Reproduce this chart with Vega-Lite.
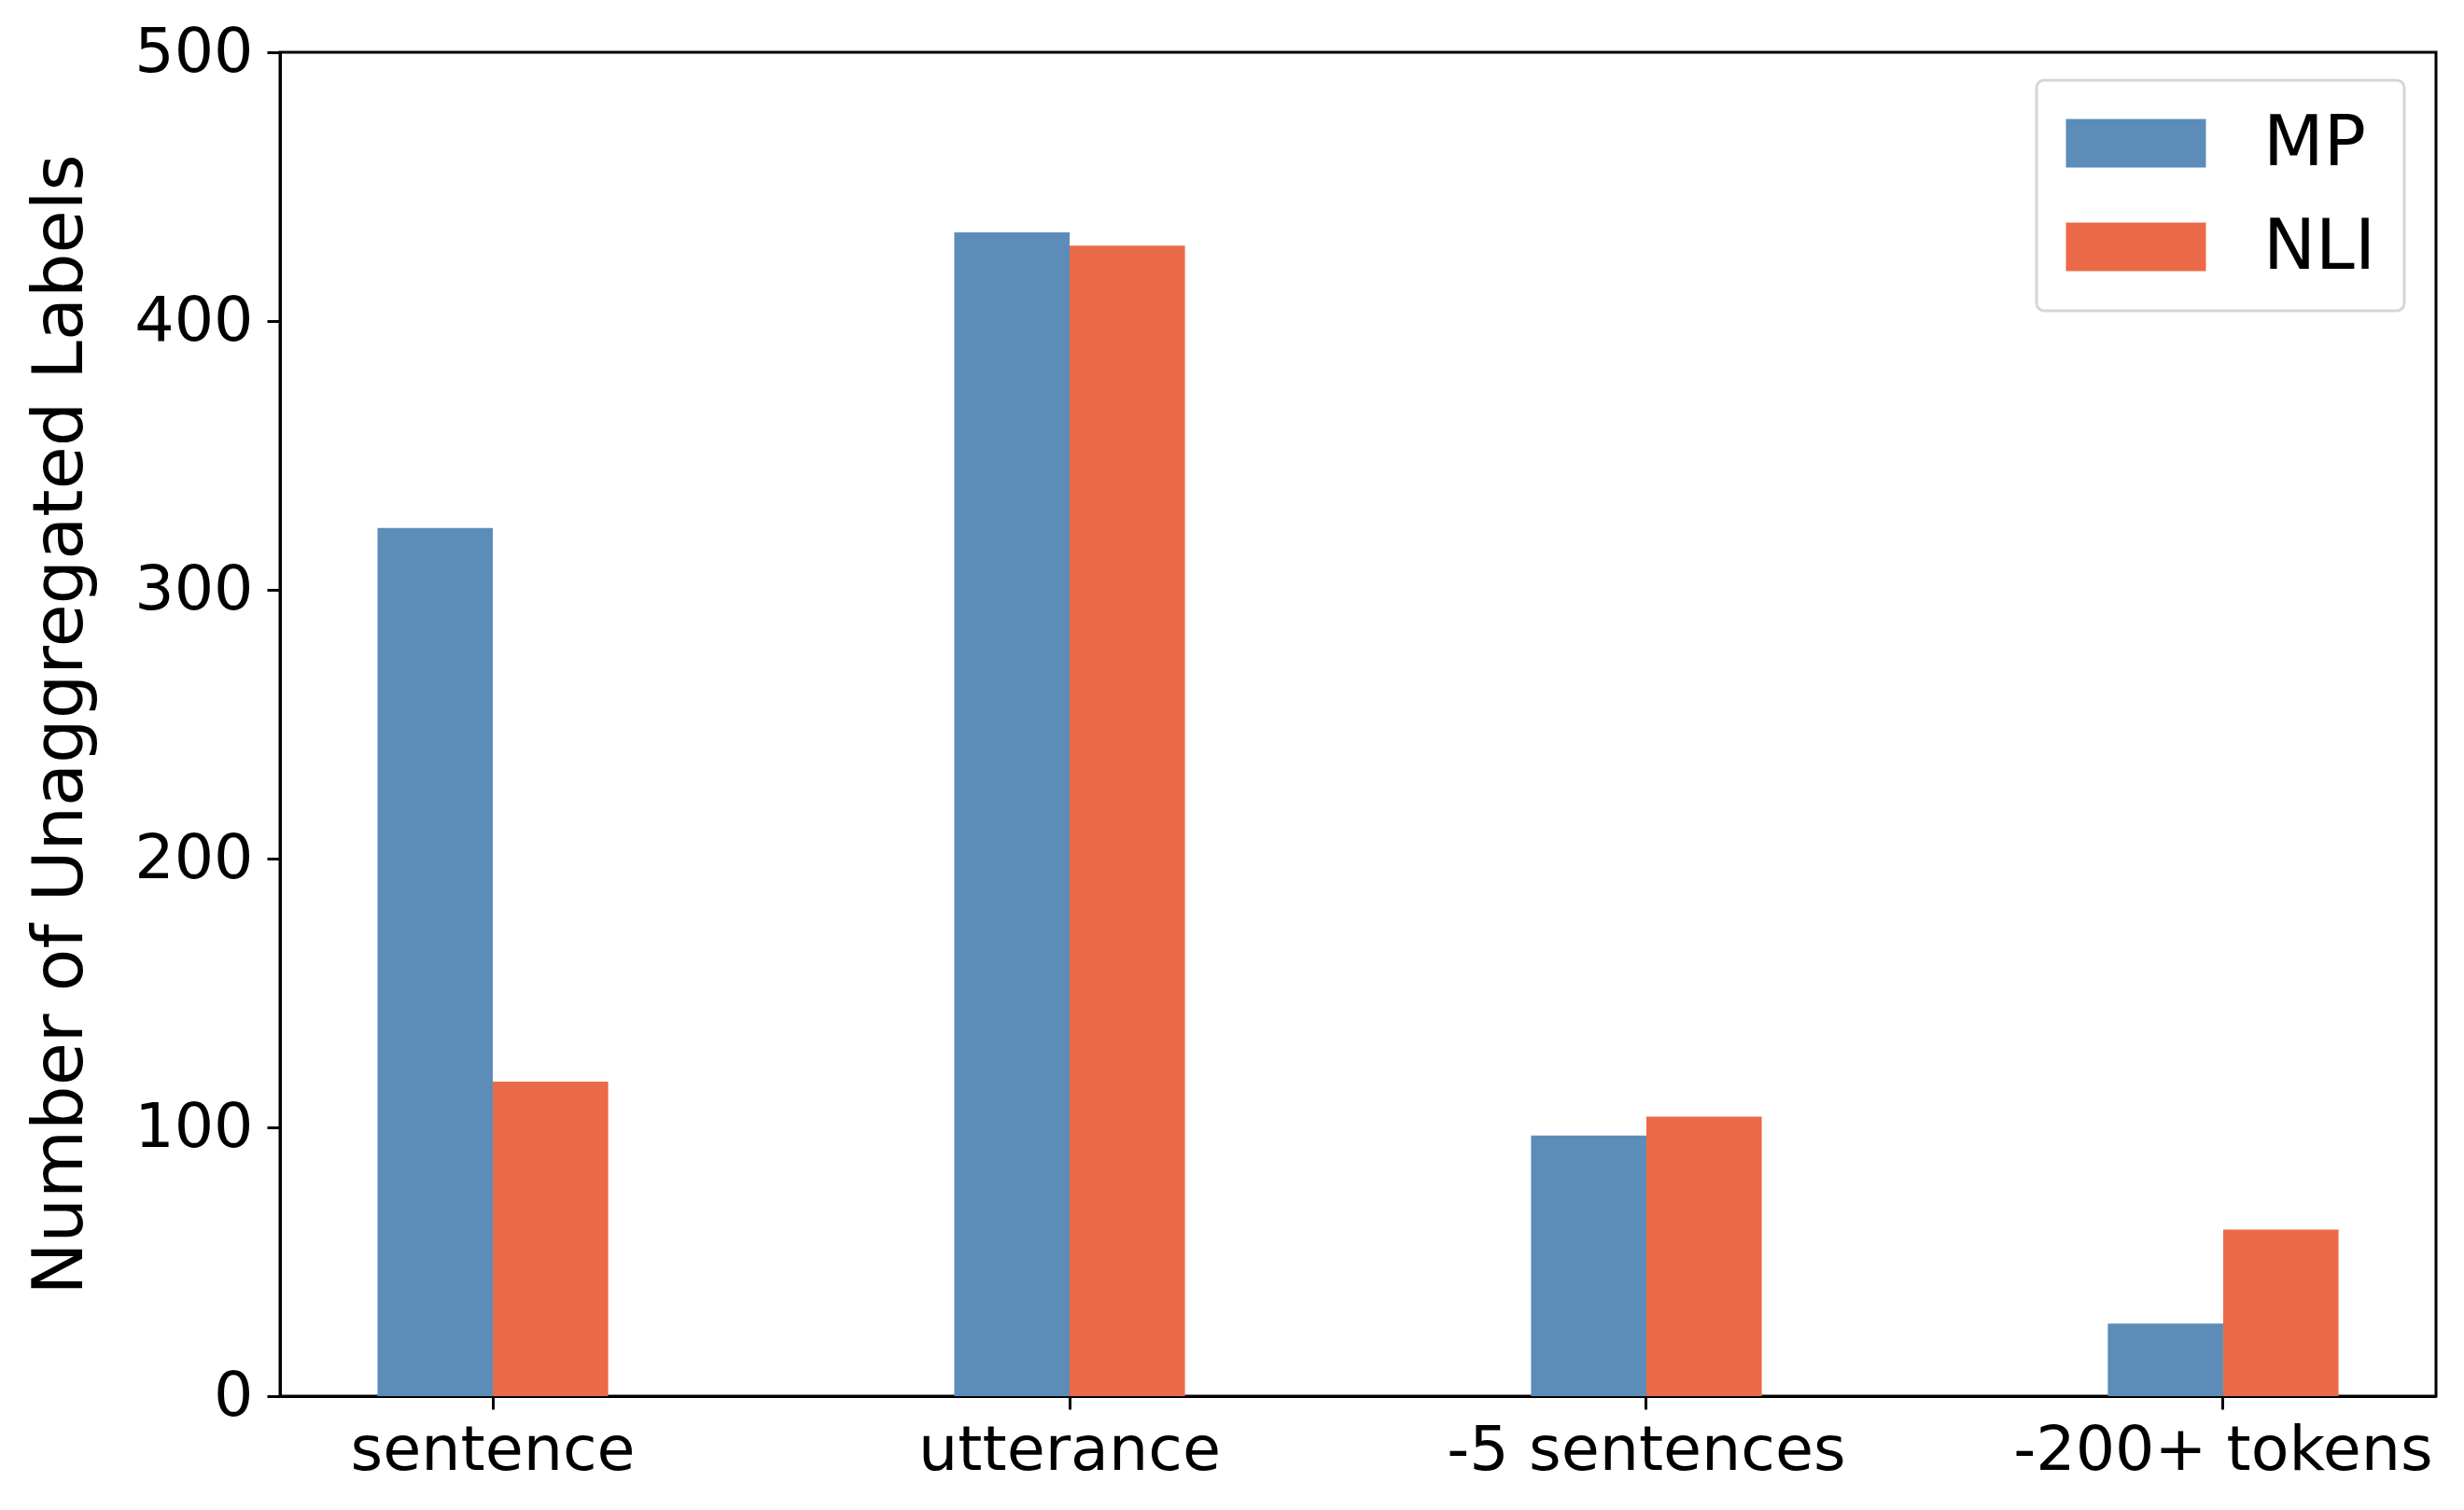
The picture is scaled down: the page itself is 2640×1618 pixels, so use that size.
{
  "$schema": "https://vega.github.io/schema/vega-lite/v6.json",
  "autosize": {"type": "none"},
  "padding": {"left": 300, "top": 56, "right": 30, "bottom": 122},
  "width": 2310,
  "height": 1440,
  "background": "white",
  "config": {
    "font": "DejaVu Sans",
    "view": {"stroke": "black", "strokeWidth": 3},
    "axis": {"grid": false, "domainColor": "black", "domainWidth": 3, "tickColor": "black", "tickWidth": 3, "tickSize": 14, "labelColor": "black", "labelFont": "DejaVu Sans", "labelFontSize": 66.7, "labelLimit": 2000, "titleFont": "DejaVu Sans", "titleColor": "black", "titleFontWeight": "normal"}
  },
  "data": {
    "values": [
      {"category": "sentence", "method": "MP", "count": 323},
      {"category": "sentence", "method": "NLI", "count": 117},
      {"category": "utterance", "method": "MP", "count": 433},
      {"category": "utterance", "method": "NLI", "count": 428},
      {"category": "-5 sentences", "method": "MP", "count": 97},
      {"category": "-5 sentences", "method": "NLI", "count": 104},
      {"category": "-200+ tokens", "method": "MP", "count": 27},
      {"category": "-200+ tokens", "method": "NLI", "count": 62}
    ]
  },
  "mark": {"type": "bar"},
  "encoding": {
    "x": {
      "field": "category", "type": "nominal",
      "sort": ["sentence", "utterance", "-5 sentences", "-200+ tokens"],
      "scale": {"paddingInner": 0.6, "paddingOuter": 0.169},
      "axis": {"title": null, "labelAngle": 0, "labelPadding": 11, "labelBaseline": "top", "labelLimit": 2000}
    },
    "xOffset": {
      "field": "method", "type": "nominal",
      "sort": ["MP", "NLI"],
      "scale": {"paddingInner": 0, "paddingOuter": 0}
    },
    "y": {
      "field": "count", "type": "quantitative",
      "scale": {"domain": [0, 500], "nice": false},
      "axis": {"title": "Number of Unaggregated Labels", "titleFontSize": 75, "values": [0, 100, 200, 300, 400, 500], "labelPadding": 15, "titleX": -236, "titleBaseline": "middle"}
    },
    "color": {
      "field": "method", "type": "nominal",
      "scale": {"domain": ["MP", "NLI"], "range": ["#5b8db8", "#ea6a48"]},
      "legend": {
        "title": null,
        "orient": "none",
        "legendX": 1882,
        "legendY": 30,
        "symbolType": "M-1,-1L4.769,-1L4.769,1L-1,1Z",
        "symbolSize": 2704,
        "symbolStrokeWidth": 0,
        "symbolOpacity": 1,
        "symbolOffset": -10,
        "labelFontSize": 75,
        "labelFont": "DejaVu Sans",
        "labelColor": "black",
        "labelOffset": 148,
        "rowPadding": 35,
        "padding": 30,
        "fillColor": "white",
        "strokeColor": "#d6d6d6",
        "cornerRadius": 8,
        "encode": {"legend": {"update": {"strokeWidth": {"value": 3}}}}
      }
    }
  }
}
